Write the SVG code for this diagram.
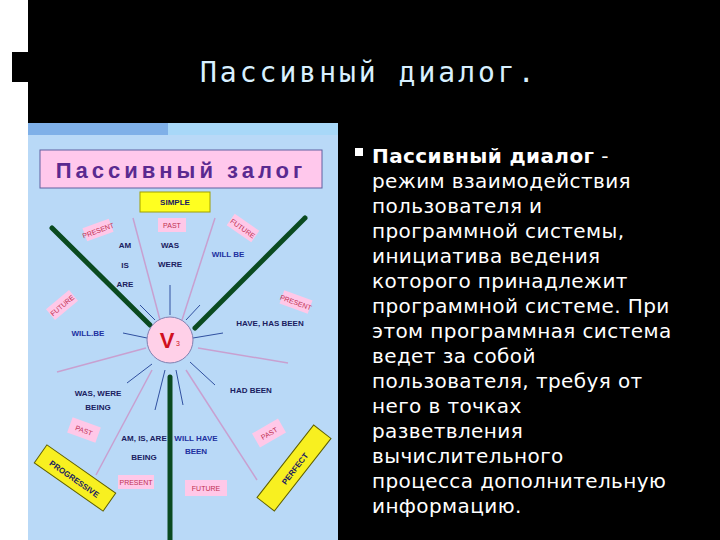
<svg xmlns="http://www.w3.org/2000/svg" width="720" height="540" viewBox="0 0 720 540">
<style>
.t{font-family:"DejaVu Sans","Noto Sans",sans-serif;fill:#fff;font-size:20px;letter-spacing:0.4px}
.s{font-family:"Liberation Sans",Arial,sans-serif;font-weight:bold;font-size:8px;fill:#1a2060}
.b{fill:#2030a0}
.pk{fill:#ffc8e8}
.pt{font-family:"Liberation Sans",Arial,sans-serif;font-size:7px;fill:#c03050}
.thin{stroke:#3050a0;stroke-width:1}
.lav{stroke:#c8a0d0;stroke-width:1.5}
.gr{stroke:#0a4a20;stroke-width:5;stroke-linecap:round}
</style>
<rect width="720" height="540" fill="#000"/>
<rect x="0" y="0" width="28" height="540" fill="#fff"/>
<rect x="12" y="52" width="16" height="30" fill="#000"/>
<text x="200" y="82" font-family="'DejaVu Sans Mono','Liberation Mono',monospace" font-size="28" letter-spacing="3" fill="#d8f0ff">Пассивный диалог.</text>
<g id="picture">
<rect x="28" y="123" width="310" height="417" fill="#b9d9f7"/>
<rect x="28" y="123" width="310" height="12" fill="#a8d8f8"/>
<rect x="28" y="123" width="140" height="12" fill="#7fb0e8"/>
<rect x="40" y="150" width="282" height="38" fill="#ffc8ec" stroke="#6060a0"/>
<text x="181" y="178" text-anchor="middle" font-family="'Liberation Sans',Arial,sans-serif" font-weight="bold" font-size="22" letter-spacing="4" fill="#5a2a90">Пассивный залог</text>
<rect x="140" y="192" width="70" height="20" fill="#ffff20" stroke="#a0a000"/>
<text x="175" y="205" text-anchor="middle" class="s">SIMPLE</text>
</g>
<g id="connectors">
<line class="gr" x1="52" y1="228" x2="150" y2="325"/>
<line class="gr" x1="305" y1="218" x2="195" y2="328"/>
<line class="gr" x1="170" y1="377" x2="170" y2="540"/>
<line class="lav" x1="133" y1="218" x2="160" y2="320"/>
<line class="lav" x1="215" y1="218" x2="182" y2="320"/>
<line class="lav" x1="57" y1="372" x2="146" y2="348"/>
<line class="lav" x1="198" y1="348" x2="288" y2="363"/>
<line class="lav" x1="96" y1="475" x2="152" y2="370"/>
<line class="lav" x1="257" y1="480" x2="186" y2="370"/>
<line class="thin" x1="170" y1="285" x2="170" y2="315"/>
<line class="thin" x1="140" y1="305" x2="155" y2="320"/>
<line class="thin" x1="200" y1="305" x2="186" y2="320"/>
<line class="thin" x1="123" y1="333" x2="147" y2="338"/>
<line class="thin" x1="223" y1="333" x2="193" y2="338"/>
<line class="thin" x1="127" y1="383" x2="152" y2="364"/>
<line class="thin" x1="215" y1="385" x2="190" y2="362"/>
<line class="thin" x1="155" y1="410" x2="165" y2="370"/>
<line class="thin" x1="183" y1="405" x2="176" y2="370"/>
</g>
<g id="hub"><circle cx="170" cy="340" r="23" fill="#ffd0e8" stroke="#8080b0"/>
<text x="167" y="348" text-anchor="middle" font-family="'Liberation Sans',Arial,sans-serif" font-weight="bold" font-size="22" fill="#d01020">V</text>
<text x="176" y="346" font-family="'Liberation Sans',Arial,sans-serif" font-size="7" fill="#d01020">3</text></g>
<g id="labels">
<g transform="translate(98,230) rotate(-20)"><rect x="-14" y="-7" width="28" height="14" class="pk"/><text x="0" y="3" text-anchor="middle" class="pt">PRESENT</text></g>
<rect x="158" y="218" width="28" height="14" class="pk"/><text x="172" y="228" text-anchor="middle" class="pt" fill="#503060">PAST</text>
<g transform="translate(243,228) rotate(35)"><rect x="-15" y="-7" width="30" height="14" class="pk"/><text x="0" y="3" text-anchor="middle" class="pt">FUTURE</text></g>
<g transform="translate(62,305) rotate(-40)"><rect x="-15" y="-7" width="30" height="14" class="pk"/><text x="0" y="3" text-anchor="middle" class="pt">FUTURE</text></g>
<g transform="translate(296,302) rotate(20)"><rect x="-15" y="-7" width="30" height="14" class="pk"/><text x="0" y="3" text-anchor="middle" class="pt">PRESENT</text></g>
<g transform="translate(84,430) rotate(20)"><rect x="-15" y="-8" width="30" height="16" class="pk"/><text x="0" y="3" text-anchor="middle" class="pt">PAST</text></g>
<g transform="translate(269,433) rotate(-30)"><rect x="-15" y="-8" width="30" height="16" class="pk"/><text x="0" y="3" text-anchor="middle" class="pt">PAST</text></g>
<rect x="118" y="475" width="36" height="14" class="pk"/><text x="136" y="485" text-anchor="middle" class="pt">PRESENT</text>
<rect x="185" y="480" width="42" height="16" class="pk"/><text x="206" y="491" text-anchor="middle" class="pt" fill="#2030a0">FUTURE</text>
<text x="125" y="248" text-anchor="middle" class="s">AM</text>
<text x="125" y="268" text-anchor="middle" class="s">IS</text>
<text x="125" y="287" text-anchor="middle" class="s">ARE</text>
<text x="170" y="248" text-anchor="middle" class="s">WAS</text>
<text x="170" y="267" text-anchor="middle" class="s">WERE</text>
<text x="228" y="257" text-anchor="middle" class="s b">WILL BE</text>
<text x="88" y="336" text-anchor="middle" class="s b">WILL.BE</text>
<text x="270" y="326" text-anchor="middle" class="s">HAVE, HAS BEEN</text>
<text x="251" y="393" text-anchor="middle" class="s">HAD BEEN</text>
<text x="98" y="396" text-anchor="middle" class="s">WAS, WERE</text>
<text x="98" y="410" text-anchor="middle" class="s">BEING</text>
<text x="144" y="441" text-anchor="middle" class="s">AM, IS, ARE</text>
<text x="144" y="460" text-anchor="middle" class="s">BEING</text>
<text x="196" y="441" text-anchor="middle" class="s b">WILL HAVE</text>
<text x="196" y="454" text-anchor="middle" class="s b">BEEN</text>
<g transform="translate(75,478) rotate(35)"><rect x="-42" y="-11" width="84" height="22" fill="#f8f020" stroke="#606000"/><text x="0" y="4" text-anchor="middle" class="s" font-size="10">PROGRESSIVE</text></g>
<g transform="translate(294,468) rotate(-52)"><rect x="-46" y="-11" width="92" height="22" fill="#f8f020" stroke="#606000"/><text x="0" y="4" text-anchor="middle" class="s" font-size="10">PERFECT</text></g>
</g>
<g id="text">
<rect x="355" y="148" width="8" height="8" fill="#fff"/>
<text class="t"><tspan x="372" y="163" font-weight="bold">Пассивный диалог</tspan><tspan> -</tspan>
<tspan x="372" y="188">режим взаимодействия</tspan>
<tspan x="372" y="213">пользователя и</tspan>
<tspan x="372" y="238">программной системы,</tspan>
<tspan x="372" y="263">инициатива ведения</tspan>
<tspan x="372" y="288">которого принадлежит</tspan>
<tspan x="372" y="313">программной системе. При</tspan>
<tspan x="372" y="338">этом программная система</tspan>
<tspan x="372" y="363">ведет за собой</tspan>
<tspan x="372" y="388">пользователя, требуя от</tspan>
<tspan x="372" y="413">него в точках</tspan>
<tspan x="372" y="438">разветвления</tspan>
<tspan x="372" y="463">вычислительного</tspan>
<tspan x="372" y="488">процесса дополнительную</tspan>
<tspan x="372" y="513">информацию.</tspan></text>
</g>
</svg>
